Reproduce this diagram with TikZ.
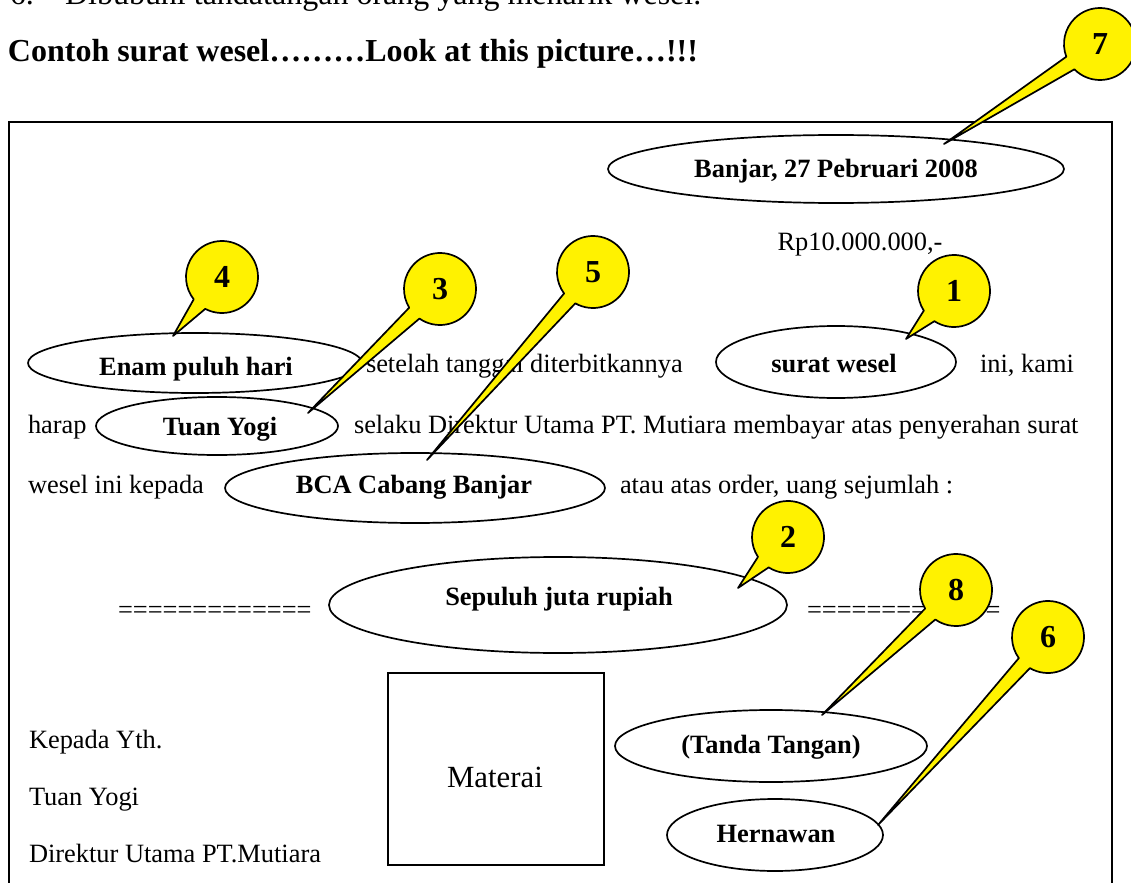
\documentclass[tikz,border=0pt]{standalone}
\usepackage{fontspec}
\setmainfont{Liberation Serif}
\usetikzlibrary{shapes.geometric,calc}
\newcommand{\mkcallout}[4]{%
  \coordinate (c#1) at (#2);
  \coordinate (tip#1) at (#3);
  \path[bubble] let \p1=(c#1), \p2=(tip#1), \n1={atan2(\y2-\y1,\x2-\x1)} in
    ([shift={(\n1+12:18pt)}]c#1) arc[start angle=\n1+12, delta angle=336, radius=18pt] -- (tip#1) -- cycle;
  \node[num] (n#1) at (c#1) {#4};}
\begin{document}
\begin{tikzpicture}[x=0.5pt,y=-0.5pt,
  every node/.style={inner sep=0pt, outer sep=0pt},
  body/.style={font=\fontsize{13.2}{15}\selectfont, anchor=base west},
  bodyc/.style={font=\fontsize{13.2}{15}\selectfont, anchor=base},
  btxt/.style={font=\bfseries\fontsize{13.2}{15}\selectfont, anchor=base},
  big/.style={font=\fontsize{16}{19}\selectfont, anchor=base west},
  ell/.style={draw, ellipse, line width=0.85pt},
  bubble/.style={draw, line width=0.85pt, fill=yellow, line join=round},
  num/.style={font=\bfseries\fontsize{16}{19}\selectfont},
]
\useasboundingbox (0,0) rectangle (1131,883);
\clip (0,0) rectangle (1131,883);
\fill[white] (0,0) rectangle (1131,883);

% heading lines
\node[big] (six) at (10,5) {6.};
\node[big] (dib) at (65,5) {Dibubuhi tandatangan orang yang menarik wesel.};
\node[big, font=\bfseries\fontsize{16}{19}\selectfont] (title) at (8,62) {Contoh surat wesel………Look at this picture…!!!};

% frame
\draw[line width=1pt] (9,900) -- (9,122) -- (1112,122) -- (1112,900);

% ellipses and letter text
\node[ell, minimum width=228pt, minimum height=34pt] (e-banjar) at (836,169) {};
\node[btxt] (t-banjar) at (836,177) {Banjar, 27 Pebruari 2008};
\node[bodyc] (rp) at (860,250) {Rp10.000.000,-};

\node[ell, minimum width=167pt, minimum height=30pt] (e-enam) at (195,363) {};
\node[btxt] (t-enam) at (196,375) {Enam puluh hari};
\node[body] (l1a) at (366,372) {setelah tanggal diterbitkannya};
\node[ell, minimum width=120pt, minimum height=36pt] (e-surat) at (836,362) {};
\node[btxt] (t-surat) at (834,372) {surat wesel};
\node[body] (l1b) at (980,372) {ini, kami};

\node[body] (l2a) at (28,433) {harap};
\node[ell, minimum width=121pt, minimum height=29pt] (e-tuan) at (217,426) {};
\node[btxt] (t-tuan) at (220,435) {Tuan Yogi};
\node[body] (l2b) at (354,433) {selaku Direktur Utama PT. Mutiara membayar atas penyerahan surat};

\node[body] (l3a) at (28,493) {wesel ini kepada};
\node[ell, minimum width=190pt, minimum height=35pt] (e-bca) at (415,488) {};
\node[btxt] (t-bca) at (414,493) {BCA Cabang Banjar};
\node[body] (l3b) at (620,493) {atau atas order, uang sejumlah :};

\node[body] (eqL) at (118,618) {=============};
\node[ell, minimum width=229pt, minimum height=48pt] (e-sep) at (558,605) {};
\node[btxt] (t-sep) at (559,605) {Sepuluh juta rupiah};
\node[body] (eqR) at (807,618) {=============};

% bottom block
\node[draw, line width=0.9pt, minimum width=108pt, minimum height=96pt] (materai) at (496,769) {};
\node[font=\fontsize{15.4}{18}\selectfont, anchor=base] (t-mat) at (495,787) {Materai};
\node[body] (kep) at (29,748) {Kepada Yth.};
\node[body] (tuan2) at (29,805) {Tuan Yogi};
\node[body] (dir) at (29,862) {Direktur Utama PT.Mutiara};

\node[ell, minimum width=156pt, minimum height=36pt] (e-tanda) at (771,746) {};
\node[btxt] (t-tanda) at (771,753) {(Tanda Tangan)};
\node[ell, minimum width=108pt, minimum height=36pt] (e-her) at (775,835) {};
\node[btxt] (t-her) at (776,842) {Hernawan};

% callouts
\mkcallout{7}{1100,44}{944,144}{7}
\mkcallout{4}{222,277}{173,336}{4}
\mkcallout{3}{440,289}{308,413}{3}
\mkcallout{5}{593,272}{427,460}{5}
\mkcallout{1}{954,291}{906,339}{1}
\mkcallout{2}{788,537}{738,588}{2}
\mkcallout{8}{956,590}{822,715}{8}
\mkcallout{6}{1048,637}{878,825}{6}
\end{tikzpicture}
\end{document}
